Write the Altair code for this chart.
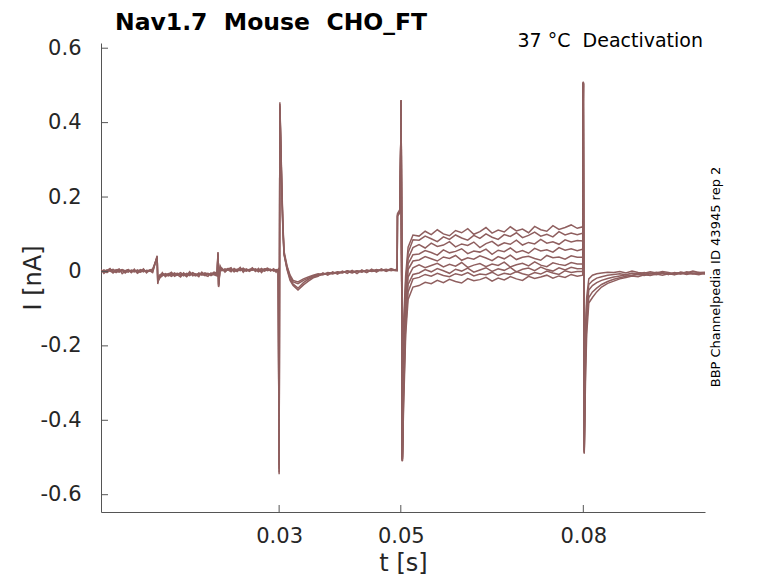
import altair as alt
import pandas as pd

TRACE = "#8f5f5f"
AXIS = "#555555"
TEXT = "#262626"
FONT = "DejaVu Sans"

# time grids (ms) and currents (pA)
t_pre_ms = [0.7, 1.2, 1.7, 2.2, 2.7, 3.2, 3.7, 4.2, 4.7, 5.2, 5.7, 6.2, 6.7, 7.2, 7.7, 8.2, 8.7, 9.2,
            9.95, 10.05, 10.3,
            10.8, 11.3, 11.8, 12.3, 12.8, 13.3, 13.8, 14.3, 14.8, 15.3, 15.8, 16.3, 16.8, 17.3, 17.8, 18.3, 18.8, 19.3, 19.8,
            19.95, 20.05, 20.3,
            20.6, 21.1, 21.6, 22.1, 22.6, 23.1, 23.6, 24.1, 24.6, 25.1, 25.6, 26.1, 26.6, 27.1, 27.6, 28.1, 28.6, 29.1, 29.5, 29.85,
            30.0, 30.12, 30.45, 30.6, 30.8, 31.3, 31.8, 32.3, 33.1,
            34.0, 34.8, 35.6, 36.4, 37.2, 38.0, 38.8, 39.6, 40.4, 41.2, 42.0, 42.8, 43.6, 44.4, 45.2, 46.0, 46.8, 47.6, 48.4, 49.2,
            49.4, 49.45, 49.9]

pre_1 = [3, -2, 4, 1, -3, 5, 0, 2, -4, 3, 1, -1, 4, -2, 2, 0, 3, -1,
         42, -30, -14,
         -8, -11, -6, -9, -4, -10, -7, -12, -5, -8, -3, -9, -6, -10, -4, -7, -8, -2, -5,
         50, -38, 12,
         6, 3, 8, 2, 5, 0, 7, 4, 1, 6, 3, 5, -1, 4, 7, 2, 5, 3, 0, 4,
         -540, 450, 220, 130, 50, 12, -14, -28, -33,
         -24, -18, -12, -9, -6, -8, -3, -5, -2, 0, -4, 1, -1, 3, 0, 2, 5, 1, 4, 2,
         3, 150, 163]
pre_2 = [-2, 4, 0, 6, 2, -3, 3, 5, 1, -2, 4, 2, -3, 3, 5, -1, 1, 4,
         36, -25, -18,
         -12, -6, -9, -13, -7, -5, -11, -8, -14, -6, -9, -12, -4, -8, -11, -6, -9, -5, -10,
         44, -42, 8,
         2, 7, 4, -1, 8, 3, 5, 9, 2, 4, 8, 1, 6, 3, 2, 7, 4, 6, 2, 5,
         -520, 440, 205, 120, 45, 8, -20, -34, -45,
         -30, -21, -15, -11, -9, -5, -7, -2, -4, 1, -3, -1, 2, -2, 4, 1, 3, 6, 2, 5,
         5, 155, 168]
pre_3 = [1, 2, -3, 3, 6, 1, -2, 4, 2, 5, -2, 3, 1, 5, -1, 3, 2, -3,
         40, -34, -10,
         -5, -9, -12, -4, -10, -8, -3, -9, -7, -11, -5, -7, -10, -3, -8, -5, -11, -7, -3,
         52, -35, 15,
         5, 1, 5, 6, 0, 6, 2, 6, 5, 0, 5, 7, 3, 8, 1, 5, 6, 1, 5, 3,
         -545, 455, 230, 140, 55, 15, -10, -24, -28,
         -20, -15, -10, -6, -8, -3, -5, -1, -3, 2, -1, 2, -2, 4, 1, 5, 2, 4, 6, 3,
         4, 148, 160]
pre_4 = [6, -5, 2, 8, -4, 3, 7, -6, 1, 5, -3, 6, -5, 0, 7, -4, 4, 6,
         38, -28, -20,
         -3, -14, -7, -2, -13, -9, -15, -4, -11, -1, -12, -8, -14, -2, -10, -13, -4, -9, -12,
         47, -40, 10,
         9, -2, 6, 10, -1, 4, 11, -2, 7, 3, 10, 0, 8, -3, 6, 9, 1, 7, -2, 6,
         -530, 445, 215, 125, 48, 5, -24, -38, -50,
         -36, -26, -17, -13, -4, -10, -1, -7, 1, -5, 3, -6, 4, -3, 6, -2, 7, 0, 8, 3,
         2, 152, 158]

t_mid_ms = [49.9, 50.05, 50.25, 50.45, 50.8, 51.2, 52.0,
            53, 54, 55, 56, 57, 58, 59, 60, 61, 62, 63, 64, 65, 66, 67, 68, 69, 70,
            71, 72, 73, 74, 75, 76, 77, 78, 79,
            79.9, 80.0]

mid_1 = [165, 460, -505, -140, -10, 65, 98,
         95, 108, 99, 112, 101, 96, 110, 104, 115, 100, 107, 118, 103, 111, 106, 120, 109, 114, 104, 121,
         112, 108, 123, 113, 118, 125, 116, 120, 510]
mid_2 = [165, 458, -505, -170, -30, 50, 85,
         84, 95, 88, 80, 93, 86, 98, 90, 84, 97, 89, 101, 92, 86, 99, 94, 104, 91, 97, 106,
         95, 100, 93, 107, 98, 103, 99, 103, 508]
mid_3 = [163, 460, -510, -190, -50, 35, 64,
         72, 63, 76, 67, 71, 80, 66, 74, 70, 79, 64, 75, 81, 69, 77, 73, 84, 71, 78, 74,
         86, 76, 80, 73, 85, 79, 83, 82, 505]
mid_4 = [165, 455, -500, -220, -70, 20, 45,
         47, 56, 51, 44, 58, 50, 54, 61, 48, 55, 52, 60, 46, 57, 53, 63, 51, 56, 49, 62,
         55, 58, 52, 64, 57, 61, 56, 60, 506]
mid_5 = [162, 460, -508, -250, -90, 5, 28,
         31, 40, 34, 28, 39, 35, 43, 30, 37, 33, 42, 36, 29, 40, 34, 44, 32, 38, 41, 35,
         30, 43, 37, 39, 33, 42, 38, 38, 507]
mid_6 = [165, 458, -505, -280, -110, -15, 10,
         18, 10, 16, 22, 12, 19, 14, 24, 11, 17, 21, 13, 20, 16, 25, 12, 18, 22, 15, 26,
         17, 13, 23, 19, 16, 24, 20, 20, 505]
mid_7 = [164, 455, -500, -310, -130, -35, -8,
         -4, 5, -1, 8, 2, -5, 6, 1, 9, -2, 4, 10, 0, 7, 3, 11, -1, 6, 9, 2,
         12, 5, 1, 10, 4, 11, 7, 8, 504]
mid_8 = [165, 460, -510, -340, -150, -55, -20,
         -16, -8, -13, -5, -11, -14, -6, -10, -3, -12, -7, -9, -2, -11, -5, -8, 0, -6, -10, -3,
         -7, 1, -4, -8, 2, -3, 0, 0, 506]
mid_9 = [163, 458, -508, -370, -170, -75, -42,
         -38, -29, -33, -24, -30, -21, -27, -31, -19, -25, -22, -16, -26, -18, -23, -14, -20, -24, -13, -19,
         -15, -10, -18, -12, -16, -8, -13, -10, 505]

t_post_ms = [80.0, 80.15, 80.35, 80.55, 80.9, 81.5, 82.2, 83, 84, 85, 86, 87, 88, 89, 90, 91, 92, 93,
             94, 95, 96, 97, 98, 99, 100]

post_1 = [510, -490, -300, -170, -85, -70, -55, -42, -32, -26, -20, -16, -12, -14, -9, -11, -7, -10,
          -6, -9, -5, -8, -4, -7, -5]
post_2 = [508, -485, -260, -140, -70, -55, -45, -35, -27, -21, -17, -13, -10, -8, -11, -6, -9, -5,
          -8, -4, -7, -3, -6, -9, -4]
post_3 = [505, -480, -220, -110, -50, -38, -30, -24, -19, -15, -12, -9, -11, -6, -8, -4, -7, -3,
          -6, -8, -2, -5, -7, -3, -6]
post_4 = [507, -488, -180, -90, -35, -25, -18, -14, -10, -8, -6, -9, -4, -7, -3, -6, -2, -5,
          -8, -3, -6, -1, -5, -4, -7]
post_5 = [506, -482, -150, -70, -20, -10, -6, -4, -2, -3, 0, -4, 1, -3, -5, -1, -4, 0,
          -3, -6, -2, -4, 1, -3, -2]

x_ticks = [0.03, 0.05, 0.08]
y_ticks = [-0.6, -0.4, -0.2, 0.0, 0.2, 0.4, 0.6]

W, H = 604, 469


def segment(times_ms, sweeps, name):
    parts = []
    for k, vals in enumerate(sweeps):
        part = pd.DataFrame({"t": [x / 1000 for x in times_ms], "i": [v / 1000 for v in vals]})
        part["trace"] = f"{name}{k}"
        parts.append(part)
    return parts


df = pd.concat(
    segment(t_pre_ms, [pre_1, pre_2, pre_3, pre_4], "pre")
    + segment(t_mid_ms, [mid_1, mid_2, mid_3, mid_4, mid_5, mid_6, mid_7, mid_8, mid_9], "mid")
    + segment(t_post_ms, [post_1, post_2, post_3, post_4, post_5], "post"),
    ignore_index=True,
)

xscale = alt.Scale(domain=[0.00072, 0.1], nice=False, zero=False)
yscale = alt.Scale(domain=[-0.6465, 0.614], nice=False, zero=False)

traces = alt.Chart(df).mark_line(color=TRACE, strokeWidth=1.5, clip=True).encode(
    x=alt.X("t:Q", scale=xscale,
            axis=alt.Axis(values=x_ticks, format=".2f", title="t [s]", ticks=False, tickSize=0,
                          labelPadding=13, titlePadding=5)),
    y=alt.Y("i:Q", scale=yscale,
            axis=alt.Axis(values=y_ticks, title="I [nA]", ticks=False, tickSize=0, labelPadding=20,
                          titlePadding=-5,
                          labelExpr="datum.value == 0 ? '0' : (datum.value < 0 ? '-' + format(-datum.value, '.1f') : format(datum.value, '.1f'))")),
    detail="trace:N",
)

xticks = alt.Chart(pd.DataFrame({"t": x_ticks})).mark_rule(color=AXIS, strokeWidth=1).encode(
    x=alt.X("t:Q", scale=xscale), y=alt.value(H), y2=alt.value(H - 7)
)
yticks = alt.Chart(pd.DataFrame({"i": y_ticks})).mark_rule(color=AXIS, strokeWidth=1).encode(
    y=alt.Y("i:Q", scale=yscale), x=alt.value(0), x2=alt.value(7)
)

cond = alt.Chart(pd.DataFrame({"label": ["37 °C\u00a0 Deactivation"]})).mark_text(
    align="right", baseline="alphabetic", fontSize=19, font=FONT, color="black"
).encode(text="label:N", x=alt.value(602), y=alt.value(4))

side = alt.Chart(pd.DataFrame({"label": ["BBP Channelpedia ID 43945 rep 2"]})).mark_text(
    align="center", baseline="middle", angle=270, fontSize=13, font=FONT, color="black"
).encode(text="label:N", x=alt.value(615), y=alt.value(234))

chart = alt.layer(traces, xticks, yticks, cond, side).properties(
    width=W,
    height=H,
    padding={"left": 93, "top": 35, "right": 65, "bottom": 63},
    autosize=alt.AutoSizeParams(type="none"),
    title=alt.TitleParams("Nav1.7\u00a0 Mouse\u00a0 CHO_FT", anchor="start", frame="group", dx=14, offset=-2,
                          fontSize=23.5, fontWeight="bold", font=FONT, color="black"),
).configure_view(stroke=None).configure_axis(
    grid=False,
    domainColor=AXIS,
    labelFont=FONT,
    labelFontSize=21,
    labelColor=TEXT,
    titleFont=FONT,
    titleFontSize=24,
    titleFontWeight="normal",
    titleColor=TEXT,
)

chart.save("out.html", embed_options={"renderer": "svg", "actions": False})
